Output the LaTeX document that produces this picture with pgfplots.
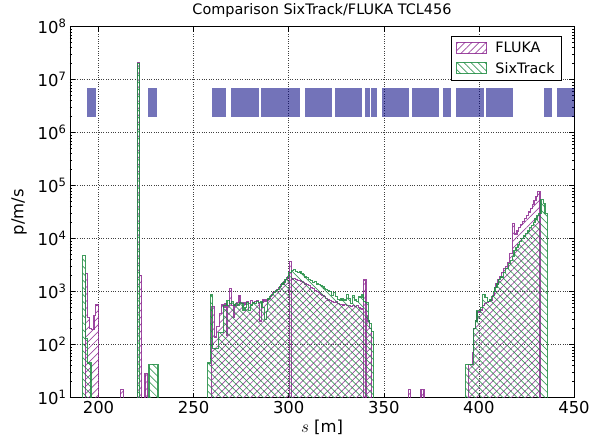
\documentclass[border=0pt]{standalone}
\usepackage{fontspec}
\setmainfont{DejaVu Sans}
\usepackage{pgfplots}
\pgfplotsset{compat=1.18}
\usetikzlibrary{patterns.meta}
\definecolor{fluka}{RGB}{140,40,145}
\definecolor{sixt}{RGB}{30,140,65}
\definecolor{blk}{RGB}{0,0,128}
\newcommand{\blk}[2]{\addplot[draw=none, fill=blk, fill opacity=0.55, forget plot] coordinates {(#1,2e6) (#2,2e6) (#2,6.9e6) (#1,6.9e6)} -- cycle;}
\begin{document}
\begin{tikzpicture}
\begin{axis}[
  scale only axis, width=504bp, height=371bp,
  xmin=185, xmax=450, ymode=log, ymin=10, ymax=1e8,
  xtick={200,250,300,350,400,450},
  ytick={1e1,1e2,1e3,1e4,1e5,1e6,1e7,1e8},
  yticklabels={10\textsuperscript{1},10\textsuperscript{2},10\textsuperscript{3},10\textsuperscript{4},10\textsuperscript{5},10\textsuperscript{6},10\textsuperscript{7},10\textsuperscript{8}},
  minor ytick={2e1,3e1,4e1,5e1,6e1,7e1,8e1,9e1,2e2,3e2,4e2,5e2,6e2,7e2,8e2,9e2,2e3,3e3,4e3,5e3,6e3,7e3,8e3,9e3,2e4,3e4,4e4,5e4,6e4,7e4,8e4,9e4,2e5,3e5,4e5,5e5,6e5,7e5,8e5,9e5,2e6,3e6,4e6,5e6,6e6,7e6,8e6,9e6,2e7,3e7,4e7,5e7,6e7,7e7,8e7,9e7},
  /pgf/number format/assume math mode=true,
  tick label style={font=\fontsize{16.5}{19}\selectfont},
  major tick length=5bp, minor tick length=2.5bp,
  tick style={black, line width=0.6bp},
  axis line style={black, line width=0.8bp},
  grid=major, major grid style={black!75, dotted, line width=0.6bp},
  title={Comparison SixTrack/FLUKA TCL456},
  title style={font=\fontsize{14.5}{17}\selectfont, at={(axis description cs:0.5,1.0156)}, anchor=base},
  xlabel={$s$ [m]},
  xlabel style={font=\fontsize{16.5}{19}\selectfont, at={(axis description cs:0.5,-0.093)}, anchor=base},
  ylabel={p/m/s},
  ylabel style={font=\fontsize{16.5}{19}\selectfont, at={(axis description cs:-0.1012,0.5)}, anchor=center},
  legend style={at={(axis description cs:1,1)}, anchor=north east, xshift=-12bp, yshift=-9.3bp,
    draw=black, line width=0.8bp, font=\fontsize{14.4}{17}\selectfont,
    inner xsep=5bp, inner ysep=4bp, row sep=4bp,
    /tikz/every odd column/.append style={column sep=6bp}},
  legend cell align=left,
  legend image code/.code={\draw[#1] (0bp,-5bp) rectangle (30bp,6bp);},
]
\blk{193.9}{198.6}
\blk{225.8}{230.8}
\blk{259.9}{263.1}
\blk{263.6}{267.0}
\blk{269.6}{284.3}
\blk{285.2}{305.9}
\blk{308.4}{322.6}
\blk{324.2}{338.4}
\blk{340.3}{342.8}
\blk{343.2}{346.5}
\blk{349.2}{363.5}
\blk{364.6}{378.8}
\blk{381.3}{385.3}
\blk{388.0}{402.5}
\blk{403.6}{418.1}
\blk{434.1}{438.2}
\blk{440.8}{450.5}

\addplot[const plot mark left, draw=fluka, draw opacity=0.85, line width=1.2bp,
  pattern={Lines[angle=45,distance=5pt,line width=0.7pt]}, pattern color=fluka]
coordinates {
(185,1)
(193.0,2240)(194.1,330)(195.1,200)(196.5,195)(197.6,350)(198.6,560)(200.0,1)
(211.4,14.5)(213.0,1)
(220.5,2.1e7)(221.7,2050)(222.8,1)
(224.4,29)(225.8,1)
(259.6,530)(260.9,140)(262.0,220)(263.5,390)(264.5,560)(265.5,500)(266.5,600)(267.3,150)(268.0,550)(268.9,1130)(270.1,550)(271.0,330)(271.7,560)(272.5,630)(273.9,840)(274.7,600)(276.0,630)(277.0,580)(278.0,650)(279.0,600)(280.0,680)(281.0,620)(282.0,650)(283.0,680)(284.0,600)(284.7,280)(285.6,620)(286.5,700)(287.5,650)(288.5,700)(289.5,750)(290.5,850)(291.5,950)(292.5,1000)(293.5,1100)(294.5,1200)(295.5,1350)(296.5,1400)(297.5,1550)(298.5,1700)(299.5,1900)(300.3,1)(300.3,3740)(301.3,1)(301.3,1740)(302.5,1800)(303.5,1700)(304.5,1600)(305.5,1650)(306.5,1550)(307.5,1500)(308.5,1400)(309.5,1350)(310.5,1300)(311.5,1200)(312.5,1150)(313.5,1050)(314.5,1000)(315.5,950)(316.5,900)(317.5,850)(318.5,800)(319.5,750)(320.5,700)(321.5,680)(322.5,650)(323.5,620)(324.5,640)(325.5,600)(326.5,580)(327.5,570)(328.5,560)(329.5,580)(330.5,550)(331.5,540)(332.5,530)(333.5,550)(334.5,520)(335.5,540)(336.5,500)(337.5,480)(338.5,460)(339.2,1)(339.2,1660)(340.6,1)(340.6,350)(341.6,280)(342.6,200)(343.6,1)
(362.8,14.5)(364.1,1)(369.6,14.5)(371.1,1)
(394.4,42)(396.5,71)(397.0,200)(398.0,280)(399.0,420)(400.0,400)(401.0,450)(402.0,550)(403.0,600)(404.0,620)(405.0,650)(406.0,700)(407.0,850)(408.0,1200)(409.0,1400)(410.0,1700)(411.0,1900)(412.0,2300)(413.0,2700)(414.0,3000)(415.0,3600)(416.0,5200)(417.7,19600)(418.9,12300)(420.0,14000)(421.0,16000)(422.0,18500)(423.0,21000)(424.0,24000)(425.0,27500)(426.0,32000)(427.0,37000)(428.0,44000)(429.0,52000)(430.0,63000)(430.7,79000)(432.1,1)
(450,1)
} -- cycle;
\addlegendentry{FLUKA}

\addplot[const plot mark left, draw=sixt, draw opacity=0.85, line width=1.2bp,
  pattern={Lines[angle=-45,distance=5pt,line width=0.7pt]}, pattern color=sixt]
coordinates {
(185,1)
(191.6,4900)(193.0,130)(194.1,45)(196.0,1)
(220.5,2.0e7)(221.7,1)
(226.5,43)(228.6,43)(231.3,1)
(257.5,45)(258.7,870)(260.0,85)(261.8,85)(263.2,170)(264.5,170)(265.8,540)(267.5,690)(268.9,600)(270.1,650)(271.0,560)(272.0,600)(273.0,560)(274.0,620)(275.0,600)(276.0,440)(277.0,500)(278.0,620)(279.0,440)(280.0,560)(281.0,620)(282.0,600)(283.0,650)(284.0,620)(285.0,650)(286.0,500)(287.4,300)(288.3,420)(289.0,730)(290.0,800)(291.0,900)(292.0,950)(293.0,1050)(294.0,1100)(295.0,1250)(296.0,1400)(297.0,1500)(298.0,1700)(299.0,1870)(300.0,2300)(301.4,2500)(302.5,2600)(303.5,2400)(304.5,2300)(305.5,2350)(306.5,2200)(307.5,2100)(308.5,1900)(309.5,1850)(310.5,1700)(311.5,1600)(312.5,1500)(313.5,1550)(314.5,1400)(315.5,1350)(316.5,1300)(317.5,1250)(318.5,1150)(319.5,1100)(320.5,1050)(321.5,1000)(322.5,850)(323.5,950)(324.5,800)(325.5,720)(326.5,700)(327.5,750)(328.5,680)(329.5,700)(330.5,900)(331.5,750)(332.5,600)(333.5,850)(334.5,700)(335.5,650)(336.5,800)(337.5,780)(338.5,900)(339.5,650)(340.5,630)(341.8,280)(342.6,250)(343.5,180)(344.7,1)
(393.0,42)(397.0,200)(398.0,280)(399.0,440)(400.0,440)(401.0,500)(402.0,880)(403.2,780)(404.4,650)(405.5,700)(406.5,800)(407.5,1000)(408.5,1200)(409.5,1400)(410.2,1700)(411.5,1900)(412.8,2300)(414.0,2700)(415.4,3400)(416.5,3900)(417.5,4600)(418.5,6000)(419.5,6800)(420.5,7800)(421.5,9000)(422.5,10000)(423.5,11200)(424.5,12500)(425.5,14000)(426.5,16000)(427.5,18000)(428.5,20500)(429.5,23500)(430.5,27000)(431.5,29500)(432.6,54000)(433.9,46000)(434.7,29500)(436.0,1)
(450,1)
} -- cycle;
\addlegendentry{SixTrack}
\end{axis}
\pgfresetboundingbox
\path[use as bounding box] ([shift={(-70bp,-39.3bp)}]current axis.south west) rectangle ([shift={(15bp,26.7bp)}]current axis.north east);
\end{tikzpicture}
\end{document}
